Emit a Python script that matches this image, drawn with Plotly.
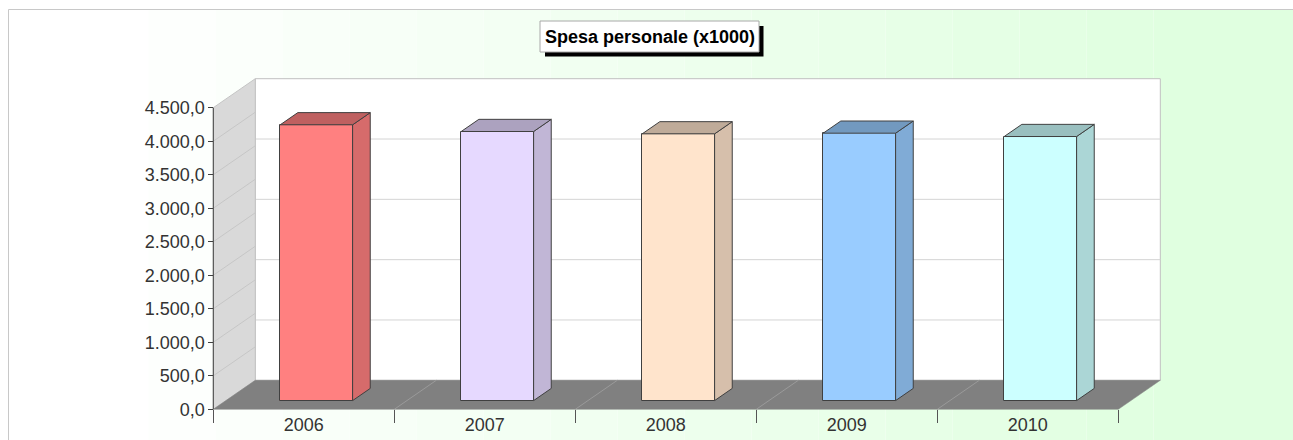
import plotly.graph_objects as go

# ---- data -------------------------------------------------------------
years = ["2006", "2007", "2008", "2009", "2010"]
spesa = [4115, 4015, 3980, 3990, 3940]          # spesa personale (x1000)
y_ticks = [0, 500, 1000, 1500, 2000, 2500, 3000, 3500, 4000, 4500]
title_text = "Spesa personale (x1000)"

# ---- styles -----------------------------------------------------------
front_colors = ["#FF8080", "#E6D9FF", "#FFE4CC", "#99CCFF", "#CCFFFF"]
EDGE = "#404040"
FONT = "Liberation Sans, Arial, sans-serif"

W, H = 1293, 440
X0_PX, CAT_PX = 213.3, 181.0            # left end of the front axis, width of one category
Y0_PX = 409.3                           # pixel row of value 0 on the front plane
Y_MAX = y_ticks[-1]
PPU = (Y0_PX - 107.7) / Y_MAX           # pixels per value unit

# oblique depth of the box (data units)
DX = 42.0 / CAT_PX
DY = 29.0 / PPU
BAR_W = 0.40
BAR_FRONT, BAR_BACK = 0.30, 0.72        # depth fractions occupied by the bars

x_lo = -0.5 - X0_PX / CAT_PX
x_hi = -0.5 + (W - X0_PX) / CAT_PX
y_lo = -(H - Y0_PX) / PPU
y_hi = Y0_PX / PPU

n = len(years)
xl, xr = -0.5, n - 0.5


def shade(hex_color, k):
    h = hex_color.lstrip("#")
    r, g, b = (int(h[i:i + 2], 16) for i in (0, 2, 4))
    return "#%02X%02X%02X" % (int(r * k), int(g * k), int(b * k))


def px(x):
    return x / W


def py(y):
    return 1 - y / H


def poly(pts):
    return "M " + " L ".join(f"{x},{y}" for x, y in pts) + " Z"


shapes = []

# page background: banded white -> pale green gradient inside a thin frame
shapes.append(dict(type="rect", xref="paper", yref="paper", x0=0, x1=1, y0=0, y1=1,
                   fillcolor="white", line_width=0, layer="below"))
g0, g1, nb = 115.0, 1187.0, 16
for k in range(nb + 1):
    t = k / nb
    col = "#%02X%02X%02X" % (int(255 - 31 * t), 255, int(255 - 31 * t))
    xa = g0 + (g1 - g0) * (k - 0.5) / nb if k > 0 else g0
    xb = g0 + (g1 - g0) * (k + 0.5) / nb if k < nb else W + 10
    shapes.append(dict(type="rect", xref="paper", yref="paper", x0=px(xa), x1=px(xb),
                       y0=-0.01, y1=py(9), fillcolor=col, line_width=0, layer="below"))
shapes.append(dict(type="rect", xref="paper", yref="paper", x0=px(8.5), x1=px(W + 20),
                   y0=py(H + 20), y1=py(9.5), line=dict(color="#C8C8C8", width=1),
                   fillcolor="rgba(0,0,0,0)", layer="below"))

# back wall, left wall and floor of the 3D box
shapes.append(dict(type="path", xref="x", yref="y", layer="below",
                   path=poly([(xl + DX, DY), (xr + DX, DY), (xr + DX, Y_MAX + DY), (xl + DX, Y_MAX + DY)]),
                   fillcolor="white", line=dict(color="#C0C0C0", width=1)))
for k in range(1, 5):
    yv = DY + Y_MAX * k / 5
    shapes.append(dict(type="line", xref="x", yref="y", layer="below",
                       x0=xl + DX, x1=xr + DX, y0=yv, y1=yv, line=dict(color="#D4D4D4", width=1)))
shapes.append(dict(type="path", xref="x", yref="y", layer="below",
                   path=poly([(xl, 0), (xl, Y_MAX), (xl + DX, Y_MAX + DY), (xl + DX, DY)]),
                   fillcolor="#D9D9D9", line=dict(color="#C4C4C4", width=1)))
for v in y_ticks[1:-1]:
    shapes.append(dict(type="line", xref="x", yref="y", layer="below",
                       x0=xl, x1=xl + DX, y0=v, y1=v + DY, line=dict(color="#C6C6C6", width=1)))
shapes.append(dict(type="path", xref="x", yref="y", layer="below",
                   path=poly([(xl, 0), (xr, 0), (xr + DX, DY), (xl + DX, DY)]),
                   fillcolor="#808080", line=dict(color="#808080", width=0.5)))
for i in range(1, n):
    xb = i - 0.5
    shapes.append(dict(type="line", xref="x", yref="y", layer="below",
                       x0=xb, x1=xb + DX, y0=0, y1=DY, line=dict(color="#9A9A9A", width=1)))

# title box with drop shadow
tb = (540, 21, 759, 52)
shapes.append(dict(type="rect", xref="paper", yref="paper", x0=px(tb[0] + 5), x1=px(tb[2] + 4.5),
                   y0=py(tb[3] + 4.5), y1=py(tb[1] + 5), fillcolor="black", line_width=0))
shapes.append(dict(type="rect", xref="paper", yref="paper", x0=px(tb[0]), x1=px(tb[2]),
                   y0=py(tb[3]), y1=py(tb[1]), fillcolor="white", line=dict(color="#A8A8A8", width=1)))

fig = go.Figure()

# front faces of the bars
y_front = BAR_FRONT * DY
fig.add_trace(go.Bar(
    x=list(range(n)), y=spesa, base=y_front, width=BAR_W,
    offset=-BAR_W / 2 + BAR_FRONT * DX,
    marker=dict(color=front_colors, line=dict(color=EDGE, width=1)),
    hoverinfo="skip", showlegend=False,
))

# side and top faces of the bars
ddx = (BAR_BACK - BAR_FRONT) * DX
ddy = (BAR_BACK - BAR_FRONT) * DY
for i, (v, c) in enumerate(zip(spesa, front_colors)):
    x0 = i - BAR_W / 2 + BAR_FRONT * DX
    x1 = x0 + BAR_W
    yt = y_front + v
    side = [(x1, y_front), (x1, yt), (x1 + ddx, yt + ddy), (x1 + ddx, y_front + ddy), (x1, y_front)]
    top = [(x0, yt), (x1, yt), (x1 + ddx, yt + ddy), (x0 + ddx, yt + ddy), (x0, yt)]
    for pts, k in ((side, 0.84), (top, 0.75)):
        fig.add_trace(go.Scatter(
            x=[p[0] for p in pts], y=[p[1] for p in pts], mode="lines", fill="toself",
            fillcolor=shade(c, k), line=dict(color=EDGE, width=1),
            hoverinfo="skip", showlegend=False,
        ))

# value axis line on the front plane
fig.add_trace(go.Scatter(x=[xl, xl], y=[0, Y_MAX], mode="lines",
                         line=dict(color=EDGE, width=1), hoverinfo="skip", showlegend=False))

fig.add_annotation(x=px((tb[0] + tb[2]) / 2), y=py((tb[1] + tb[3]) / 2 + 0.5), xref="paper", yref="paper",
                   xanchor="center", yanchor="middle",
                   text=f"<b>{title_text}</b>", showarrow=False,
                   font=dict(family=FONT, size=18, color="black"))

fig.update_layout(
    width=W, height=H, autosize=False,
    margin=dict(l=0, r=0, t=0, b=0, pad=0),
    paper_bgcolor="white", plot_bgcolor="rgba(0,0,0,0)",
    separators=",.",
    shapes=shapes,
    bargap=0,
    xaxis=dict(range=[x_lo, x_hi], domain=[0, 1], anchor="free", position=py(Y0_PX),
               tickmode="array", tickvals=list(range(n)), ticktext=years, ticks="",
               ticklabelstandoff=3,
               minor=dict(tickmode="array", tickvals=[i - 0.5 for i in range(n + 1)],
                          ticks="outside", ticklen=13, tickcolor="#555555", tickwidth=1, showgrid=False),
               showgrid=False, zeroline=False, showline=False,
               tickfont=dict(family=FONT, size=18, color="#333333"), fixedrange=True),
    yaxis=dict(range=[y_lo, y_hi], domain=[0, 1], anchor="free", position=px(X0_PX), side="left",
               tickmode="array", tickvals=y_ticks, tickformat=",.1f",
               ticks="outside", ticklen=5, tickcolor=EDGE, tickwidth=1,
               showgrid=False, zeroline=False, showline=False,
               tickfont=dict(family=FONT, size=18, color="#333333"), fixedrange=True),
)

fig.write_html("out.html")
